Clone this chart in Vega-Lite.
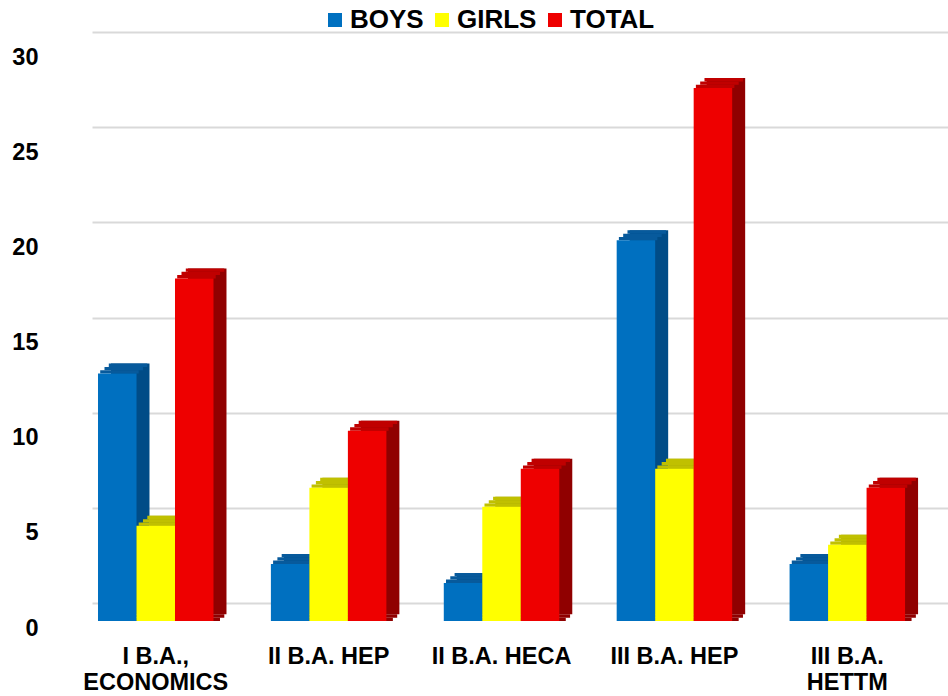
{
  "$schema": "https://vega.github.io/schema/vega-lite/v6.json",
  "autosize": {"type": "none"},
  "width": 856,
  "height": 571,
  "padding": {"left": 92, "top": 32, "right": 0, "bottom": 93},
  "background": "white",
  "config": {
    "view": {"stroke": null},
    "font": "Liberation Sans"
  },
  "data": {
    "values": [
      {"course": "I B.A., ECONOMICS", "series": "BOYS", "value": 13},
      {"course": "I B.A., ECONOMICS", "series": "GIRLS", "value": 5},
      {"course": "I B.A., ECONOMICS", "series": "TOTAL", "value": 18},
      {"course": "II B.A. HEP", "series": "BOYS", "value": 3},
      {"course": "II B.A. HEP", "series": "GIRLS", "value": 7},
      {"course": "II B.A. HEP", "series": "TOTAL", "value": 10},
      {"course": "II B.A. HECA", "series": "BOYS", "value": 2},
      {"course": "II B.A. HECA", "series": "GIRLS", "value": 6},
      {"course": "II B.A. HECA", "series": "TOTAL", "value": 8},
      {"course": "III B.A. HEP", "series": "BOYS", "value": 20},
      {"course": "III B.A. HEP", "series": "GIRLS", "value": 8},
      {"course": "III B.A. HEP", "series": "TOTAL", "value": 28},
      {"course": "III B.A. HETTM", "series": "BOYS", "value": 3},
      {"course": "III B.A. HETTM", "series": "GIRLS", "value": 4},
      {"course": "III B.A. HETTM", "series": "TOTAL", "value": 7}
    ]
  },
  "encoding": {
    "xOffset": {
      "field": "series",
      "type": "nominal",
      "sort": ["BOYS", "GIRLS", "TOTAL"],
      "scale": {"paddingInner": 0, "paddingOuter": 0}
    },
    "y": {
      "field": "value",
      "type": "quantitative",
      "stack": null,
      "scale": {"domain": [0, 30], "nice": false, "zero": true},
      "axis": {
        "title": null,
        "values": [0, 5, 10, 15, 20, 25, 30],
        "domain": false,
        "ticks": false,
        "tickSize": 0,
        "grid": true,
        "gridColor": "#d9d9d9",
        "gridWidth": 2,
        "labelPadding": 54,
        "labelOffset": 25,
        "labelFont": "Liberation Sans",
        "labelFontSize": 23.5,
        "labelFontWeight": "bold",
        "labelColor": "#000000"
      }
    }
  },
  "layer": [
    {
      "mark": {"type": "bar", "yOffset": 8, "y2Offset": 8},
      "encoding": {
        "x": {"field": "course", "type": "nominal", "sort": null, "scale": {"paddingInner": 0.332, "paddingOuter": 0.1415, "align": 0.3882}, "axis": null},
        "y2": {"datum": 0},
        "color": {"field": "series", "type": "nominal", "scale": {"domain": ["BOYS", "GIRLS", "TOTAL"], "range": ["#004c87", "#a8a800", "#900000"]}, "legend": null}
      }
    },
    {
      "mark": {"type": "bar", "yOffset": 8, "y2Offset": 11.33},
      "encoding": {
        "x": {"field": "course", "type": "nominal", "sort": null, "scale": {"paddingInner": 0.332, "paddingOuter": 0.1415, "align": 0.3882}, "axis": null},
        "y": {"datum": 0, "type": "quantitative"},
        "y2": {"datum": 0},
        "color": {"field": "series", "type": "nominal", "scale": {"domain": ["BOYS", "GIRLS", "TOTAL"], "range": ["#004c87", "#a8a800", "#900000"]}, "legend": null}
      }
    },
    {
      "mark": {"type": "bar", "yOffset": 11.33, "y2Offset": 14.67},
      "encoding": {
        "x": {"field": "course", "type": "nominal", "sort": null, "scale": {"paddingInner": 0.332, "paddingOuter": 0.1415, "align": 0.3433}, "axis": null},
        "y": {"datum": 0, "type": "quantitative"},
        "y2": {"datum": 0},
        "color": {"field": "series", "type": "nominal", "scale": {"domain": ["BOYS", "GIRLS", "TOTAL"], "range": ["#004c87", "#a8a800", "#900000"]}, "legend": null}
      }
    },
    {
      "mark": {"type": "bar", "yOffset": 14.67, "y2Offset": 18},
      "encoding": {
        "x": {"field": "course", "type": "nominal", "sort": null, "scale": {"paddingInner": 0.332, "paddingOuter": 0.1415, "align": 0.2554}, "axis": null},
        "y": {"datum": 0, "type": "quantitative"},
        "y2": {"datum": 0},
        "color": {"field": "series", "type": "nominal", "scale": {"domain": ["BOYS", "GIRLS", "TOTAL"], "range": ["#004c87", "#a8a800", "#900000"]}, "legend": null}
      }
    },
    {
      "mark": {"type": "bar", "yOffset": 8, "y2Offset": 11.33},
      "encoding": {
        "x": {"field": "course", "type": "nominal", "sort": null, "scale": {"paddingInner": 0.332, "paddingOuter": 0.1415, "align": 0.3433}, "axis": null},
        "y2": {"field": "value"},
        "color": {"field": "series", "type": "nominal", "scale": {"domain": ["BOYS", "GIRLS", "TOTAL"], "range": ["#075a9c", "#c0c000", "#c00000"]}, "legend": null}
      }
    },
    {
      "mark": {"type": "bar", "yOffset": 11.33, "y2Offset": 14.67},
      "encoding": {
        "x": {"field": "course", "type": "nominal", "sort": null, "scale": {"paddingInner": 0.332, "paddingOuter": 0.1415, "align": 0.2554}, "axis": null},
        "y2": {"field": "value"},
        "color": {"field": "series", "type": "nominal", "scale": {"domain": ["BOYS", "GIRLS", "TOTAL"], "range": ["#075a9c", "#c0c000", "#c00000"]}, "legend": null}
      }
    },
    {
      "mark": {"type": "bar", "yOffset": 14.67, "y2Offset": 18},
      "encoding": {
        "x": {"field": "course", "type": "nominal", "sort": null, "scale": {"paddingInner": 0.332, "paddingOuter": 0.1415, "align": 0.1676}, "axis": null},
        "y2": {"field": "value"},
        "color": {"field": "series", "type": "nominal", "scale": {"domain": ["BOYS", "GIRLS", "TOTAL"], "range": ["#075a9c", "#c0c000", "#c00000"]}, "legend": null}
      }
    },
    {
      "mark": {"type": "bar", "yOffset": 18, "y2Offset": 18},
      "encoding": {
        "x": {
          "field": "course",
          "type": "nominal",
          "sort": null,
          "scale": {"paddingInner": 0.332, "paddingOuter": 0.1415, "align": 0.1226},
          "axis": {
            "title": null,
            "labelAngle": 0,
            "domain": false,
            "ticks": false,
            "tickSize": 0,
            "grid": false,
            "labelPadding": 41,
            "labelFont": "Liberation Sans",
            "labelFontSize": 23.5,
            "labelFontWeight": "bold",
            "labelColor": "#000000",
            "labelLimit": 400,
            "labelLineHeight": 26,
            "labelExpr": "datum.label == 'I B.A., ECONOMICS' ? ['I B.A.,', 'ECONOMICS'] : datum.label == 'III B.A. HETTM' ? ['III B.A.', 'HETTM'] : datum.label"
          }
        },
        "y2": {"datum": 0},
        "color": {
          "field": "series",
          "type": "nominal",
          "scale": {"domain": ["BOYS", "GIRLS", "TOTAL"], "range": ["#0070c0", "#ffff00", "#ee0000"]},
          "legend": {
            "title": null,
            "orient": "none",
            "direction": "horizontal",
            "legendX": 230,
            "legendY": -25,
            "padding": 0,
            "symbolOffset": 0,
            "symbolType": "square",
            "symbolSize": 196,
            "symbolStrokeWidth": 0,
            "labelFont": "Liberation Sans",
            "labelFontSize": 26,
            "labelFontWeight": "bold",
            "labelColor": "#000000",
            "labelOffset": 2,
            "columnPadding": 5,
            "labelLimit": 200
          }
        }
      }
    }
  ],
  "resolve": {"scale": {"color": "independent", "x": "independent"}, "axis": {"x": "independent"}}
}
